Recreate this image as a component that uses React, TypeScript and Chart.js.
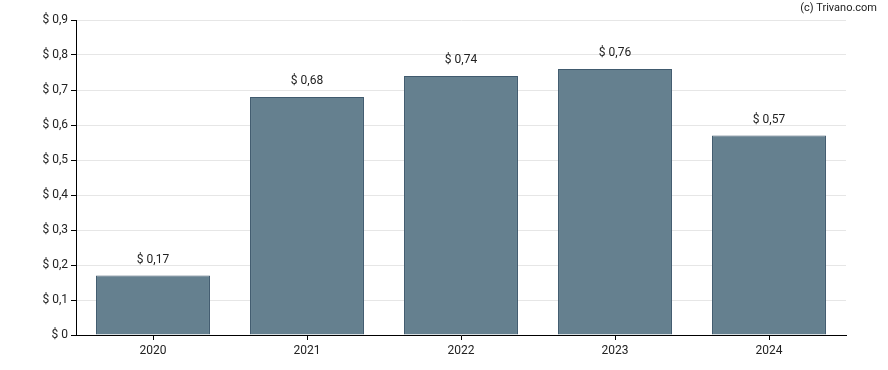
import React, { useEffect, useRef } from "react";
import { Chart, registerables } from "chart.js";

Chart.register(...registerables);

const categories = ["2020", "2021", "2022", "2023", "2024"];
const values = [0.17, 0.68, 0.74, 0.76, 0.57];
const yTicks = [0, 0.1, 0.2, 0.3, 0.4, 0.5, 0.6, 0.7, 0.8, 0.9];

const fmt = (v: number, digits: number) =>
  "$ " + (v === 0 ? "0" : v.toFixed(digits).replace(".", ","));

const labelPlugin = {
  id: "barLabels",
  afterDatasetsDraw(chart: any) {
    const ctx = chart.ctx;
    const meta = chart.getDatasetMeta(0);
    ctx.save();
    ctx.font = "12px Roboto";
    ctx.fillStyle = "#222";
    ctx.textAlign = "center";
    ctx.textBaseline = "middle";
    meta.data.forEach((bar: any, i: number) => {
      ctx.fillText(fmt(values[i], 2), bar.x, bar.y - 16);
    });
    ctx.font = "11px Roboto";
    ctx.textAlign = "right";
    ctx.fillText("(c) Trivano.com", 877, 8);
    ctx.restore();
  },
};

export default function App() {
  const ref = useRef<HTMLCanvasElement>(null);
  useEffect(() => {
    const chart = new Chart(ref.current!, {
      type: "bar",
      data: {
        labels: categories,
        datasets: [
          {
            data: values,
            backgroundColor: "#65808f",
            borderColor: "#405a6e",
            borderWidth: 1,
            categoryPercentage: 0.74,
            barPercentage: 1,
          },
        ],
      },
      options: {
        animation: false,
        responsive: false,
        layout: { padding: { top: 20, right: 42, left: 0, bottom: 0 } },
        plugins: { legend: { display: false }, tooltip: { enabled: false } },
        scales: {
          x: {
            grid: {
              offset: false,
              drawOnChartArea: false,
              tickColor: "#000",
              tickLength: 5,
            },
            border: { color: "#000" },
            ticks: { color: "#222", font: { family: "Roboto", size: 12 }, padding: 4 },
            afterFit: (s: any) => {
              s.height = 35;
            },
          },
          y: {
            min: 0,
            max: 0.9,
            afterBuildTicks: (s: any) => {
              s.ticks = yTicks.map((v) => ({ value: v }));
            },
            grid: { color: "#e6e6e6", tickColor: "#000", tickLength: 5 },
            border: { color: "#000" },
            ticks: {
              color: "#222",
              font: { family: "Roboto", size: 12 },
              padding: 3,
              callback: (v: any) => fmt(Number(v), 1),
            },
            afterFit: (s: any) => {
              s.width = 76;
            },
          },
        },
      },
      plugins: [labelPlugin],
    });
    return () => chart.destroy();
  }, []);
  return (
    <div style={{ position: "fixed", left: 0, top: 0, width: 888, height: 370, background: "#fff" }}>
      <canvas ref={ref} width={888} height={370} />
    </div>
  );
}
